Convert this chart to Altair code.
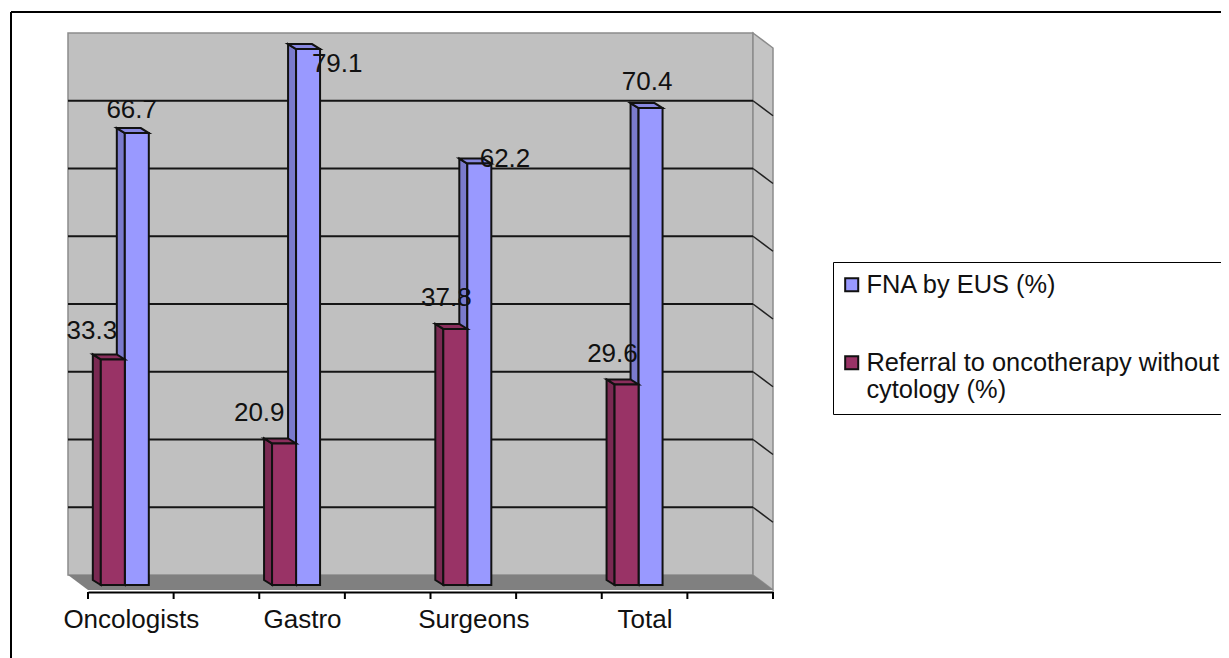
import altair as alt
import pandas as pd

# ---- data
categories = ["Oncologists", "Gastro", "Surgeons", "Total"]
fna_eus = [66.7, 79.1, 62.2, 70.4]
referral = [33.3, 20.9, 37.8, 29.6]
series_names = ["FNA by EUS (%)", "Referral to oncotherapy without cytology (%)"]
gridlines = [10, 20, 30, 40, 50, 60, 70]
tick_positions = [0, 1, 2, 3, 4, 5, 6, 7, 8]
label_positions = [0.5, 2.5, 4.5, 6.5]
# hand placement of the value labels (x, y nudges in axis units)
fna_nudge = [(-0.06, 3.4), (0.34, -2.2), (0.30, 0.7), (-0.04, 3.8)]
ref_nudge = [(-0.245, 4.2), (-0.29, 4.5), (-0.105, 4.6), (-0.165, 4.5)]

W, H_TOTAL, H = 1213, 650, 584
PX_X = 85.625   # pixels per category slot
PX_Y = 6.775    # pixels per percent
xs = alt.Scale(domain=[0, 8], range=[80, 765], nice=False, zero=False)
ys = alt.Scale(domain=[0, 80], range=[577, 35], nice=False, zero=False)

# ---- x axis (the same definition in every layer so that it merges)
axis_labels = dict(zip(label_positions, categories))
label_expr = "{" + ",".join(f"'{k}':'{v}'" for k, v in axis_labels.items()) + "}[''+datum.value]"
x_axis = alt.Axis(values=label_positions, labelExpr=label_expr, tickSize=0, domain=True,
                  domainColor="black", domainWidth=2, grid=False, zindex=1,
                  labelFontSize=26, labelFont="Liberation Sans", labelColor="#111111",
                  labelPadding=14, labelOverlap=False, labelFlush=False, labelAngle=0)

def X(f):
    return alt.X(f, type="quantitative", scale=xs, title=None, axis=x_axis)
def Y(f):
    return alt.Y(f, type="quantitative", scale=ys, axis=None, title=None)

BACK_DX = -20 / PX_X
BACK_DY = 10 / PX_Y
FRONT_DY = -0.74
DEPTH_X = -8 / PX_X
DEPTH_Y = 5 / PX_Y
BAR_W = 24 / PX_X
BAR_SHIFT = -6 / PX_X

x_back_l, x_back_r = BACK_DX, 8 + BACK_DX
y_back_0, y_back_t = BACK_DY, 80 + BACK_DY
y_front_0, y_front_t = FRONT_DY, 80 + FRONT_DY

# ---- walls and floor
wall = alt.Chart(pd.DataFrame([dict(x=x_back_l, x2=x_back_r, y=y_back_0, y2=y_back_t)])).mark_rect(
    fill="#C0C0C0", stroke="#8C8C8C", strokeWidth=1.5
).encode(x=X("x"), x2="x2", y=Y("y"), y2="y2")

side_wall = alt.Chart(pd.DataFrame([
    dict(x=x_back_r, y=y_back_t, y2=y_back_0),
    dict(x=8, y=y_front_t, y2=y_front_0),
])).mark_area(fill="#C4C4C4", stroke="#8C8C8C", strokeWidth=1.5).encode(
    x=X("x"), y=Y("y"), y2="y2"
)

floor = alt.Chart(pd.DataFrame([
    dict(y=y_back_0, x=x_back_l, x2=x_back_r),
    dict(y=y_front_0, x=0, x2=8),
])).mark_area(orient="horizontal", fill="#808080").encode(
    y=Y("y"), x=X("x"), x2="x2"
)

grid_df = pd.DataFrame({"v": gridlines})
grid_df["y"] = grid_df.v + BACK_DY
grid_df["x"] = x_back_l
grid_df["x2"] = x_back_r
grid = alt.Chart(grid_df).mark_rule(color="#151515", strokeWidth=2).encode(
    x=X("x"), x2="x2", y=Y("y")
)
side_df = pd.DataFrame({"v": gridlines})
side_df["y"] = side_df.v + BACK_DY
side_df["y2"] = side_df.v + FRONT_DY
side_df["x"] = x_back_r
side_df["x2"] = 8.0
side_grid = alt.Chart(side_df).mark_rule(color="#222222", strokeWidth=1.5).encode(
    x=X("x"), x2="x2", y=Y("y"), y2="y2"
)

ticks = alt.Chart(pd.DataFrame({"x": tick_positions})).mark_rule(color="black", strokeWidth=2).encode(
    x=X("x"), y=alt.value(584), y2=alt.value(591)
)

# ---- bars
def bar_layers(values, left_of_centre, name, side_col, top_col):
    side, top, front = [], [], []
    for i, v in enumerate(values):
        c = 2 * i + 0.5 + BAR_SHIFT
        x0 = c - BAR_W if left_of_centre else c
        x1 = x0 + BAR_W
        side += [dict(b=i, x=x0 + DEPTH_X, y=v + DEPTH_Y, y2=DEPTH_Y),
                 dict(b=i, x=x0, y=v, y2=0)]
        top += [dict(b=i, y=v, x=x0, x2=x1),
                dict(b=i, y=v + DEPTH_Y, x=x0 + DEPTH_X, x2=x1 + DEPTH_X)]
        front.append(dict(s=name, x=x0, x2=x1, y=v, y2=0))
    s = alt.Chart(pd.DataFrame(side)).mark_area(fill=side_col, stroke="#111111", strokeWidth=2).encode(
        x=X("x"), y=Y("y"), y2="y2", detail="b:N")
    t = alt.Chart(pd.DataFrame(top)).mark_area(orient="horizontal", fill=top_col, stroke="#111111", strokeWidth=2).encode(
        y=Y("y"), x=X("x"), x2="x2", detail="b:N")
    f = alt.Chart(pd.DataFrame(front)).mark_rect(stroke="#111111", strokeWidth=2).encode(
        x=X("x"), x2="x2", y=Y("y"), y2="y2",
        color=alt.Color("s:N", scale=alt.Scale(domain=series_names, range=["#9999FF", "#993366"]),
                        legend=alt.Legend(
                            orient="none", legendX=825, legendY=254, title=None,
                            symbolType="square", symbolSize=170, symbolStrokeColor="#111111",
                            symbolStrokeWidth=2, symbolOffset=-4, labelFont="Liberation Sans",
                            labelFontSize=25.4, labelColor="#111111", labelLimit=600, padding=10,
                            rowPadding=51, fillColor="white", strokeColor="black", labelOffset=2,
                            labelExpr="datum.label == '" + series_names[1] +
                                      "' ? ['Referral to oncotherapy without','cytology (%)'] : datum.label",
                        )))
    return [s, t, f]

blue = bar_layers(fna_eus, False, series_names[0], "#7A7ACC", "#8888E0")
maroon = bar_layers(referral, True, series_names[1], "#7A2952", "#8A2E5C")

# ---- value labels
rows = []
for i, (v, n) in enumerate(zip(fna_eus, fna_nudge)):
    rows.append(dict(x=2 * i + 0.5 + BAR_SHIFT + BAR_W / 2 + n[0], y=v + n[1], t=f"{v}"))
for i, (v, n) in enumerate(zip(referral, ref_nudge)):
    rows.append(dict(x=2 * i + 0.5 + BAR_SHIFT - BAR_W / 2 + n[0], y=v + n[1], t=f"{v}"))
value_labels = alt.Chart(pd.DataFrame(rows)).mark_text(
    font="Liberation Sans", fontSize=26, color="#111111", align="center", baseline="middle"
).encode(x=X("x"), y=Y("y"), text="t:N")

# ---- outer frame
frame_l = alt.Chart(pd.DataFrame({"a": [0]})).mark_rule(color="black", strokeWidth=2).encode(
    x=alt.value(3), y=alt.value(4), y2=alt.value(H_TOTAL))
frame_t = alt.Chart(pd.DataFrame({"a": [0]})).mark_rule(color="black", strokeWidth=2).encode(
    y=alt.value(4), x=alt.value(3), x2=alt.value(W))

chart = alt.layer(
    frame_l, frame_t, wall, side_wall, floor, grid, side_grid, ticks,
    *blue, *maroon, value_labels
).properties(
    width=W, height=H,
    padding=alt.Padding(left=0, top=0, right=0, bottom=H_TOTAL - H),
    autosize=alt.AutoSizeParams(type="none"), background="white"
).configure_view(stroke=None)

chart.save("out.html", embed_options={"renderer": "svg", "actions": False})
